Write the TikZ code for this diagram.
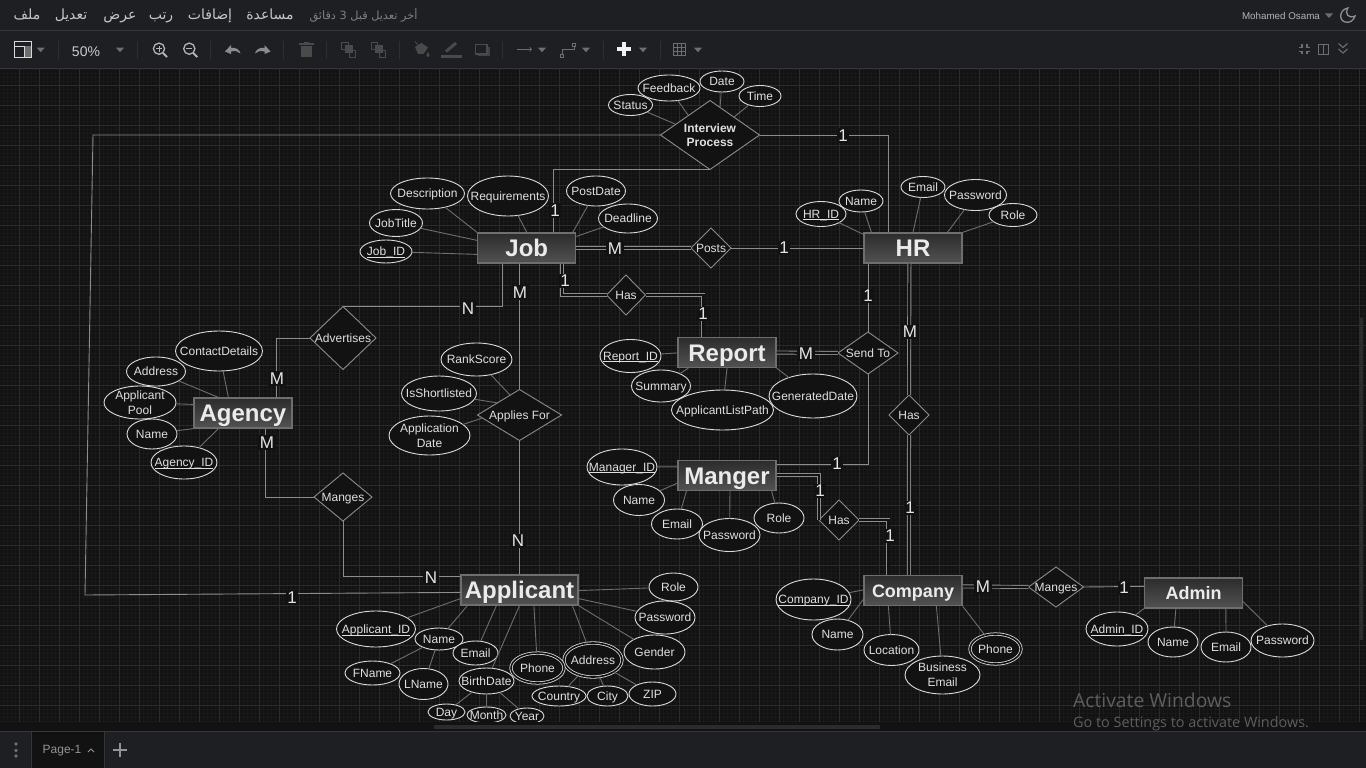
\documentclass[tikz,border=0pt]{standalone}
\usepackage{fontspec}
\setmainfont{Liberation Sans}
\newfontfamily\arabicfont[Script=Arabic]{DejaVu Sans}
\newfontfamily\winfont{Open Sans}
\TeXXeTstate=1
\usetikzlibrary{shapes.geometric, arrows}
\definecolor{canvasbg}{HTML}{121212}
\definecolor{chromebg}{HTML}{1D1F22}
\definecolor{chromeline}{HTML}{343638}
\definecolor{majorline}{HTML}{2B2B2B}
\definecolor{minorline}{HTML}{191919}
\definecolor{linkgrey}{HTML}{8C8C8C}
\definecolor{attrgrey}{HTML}{6E6E6E}
\definecolor{rimgrey}{HTML}{DADADA}
\definecolor{icondim}{HTML}{4A4A4A}
\definecolor{iconmid}{HTML}{6E6E6E}
\definecolor{iconlit}{HTML}{B4B4B4}
\definecolor{winmark}{HTML}{5E5E5E}
\definecolor{boxtop}{HTML}{2C2C2C}
\definecolor{boxbottom}{HTML}{525252}
\tikzstyle{entitynode}=[rectangle, draw=iconmid, line width=1.2pt, inner sep=0pt,
					top color=boxtop, bottom color=boxbottom,
					text=white!92!black, minimum width=98pt, minimum height=30pt]
\newcommand{\entityfont}{\fontsize{24}{28}\bfseries\selectfont}
\newcommand{\smallentityfont}{\fontsize{18}{22}\bfseries\selectfont}
\newcommand{\attrfont}{\fontsize{12}{15}\selectfont}
\newcommand{\caretat}[2]{\fill[iconmid] (#1-4,#2-2) -- (#1+4,#2-2) -- (#1,#2+2.5) -- cycle;}
\newcommand{\keyattr}[1]{\underline{\raisebox{0pt}[\height][0pt]{#1}}}

\begin{document}
\begin{tikzpicture}[x=1pt,y=-1pt,
 attrnode/.style 2 args={ellipse, draw=rimgrey, line width=.9pt, fill=canvasbg, text=white!88!black, font=\attrfont, align=center,
  inner sep=-70pt, outer sep=0pt, text depth=0pt, minimum width=#1pt, minimum height=#2pt},
 multinode/.style 2 args={attrnode={#1}{#2}, double=canvasbg, double distance=1.6pt, line width=.8pt},
 relnode/.style 2 args={diamond, draw=linkgrey, line width=.9pt, fill=canvasbg, text=white!88!black, font=\attrfont, align=center,
  inner sep=-70pt, outer sep=0pt, text depth=0pt, minimum width=#1pt, minimum height=#2pt},
 bigentity/.style={entitynode, font=\entityfont, text height=17pt, text depth=0pt},
 smallentity/.style={entitynode, font=\smallentityfont, text height=13pt, text depth=0pt},
 cardnode/.style={fill=canvasbg, text=white!90!black, font=\fontsize{17}{20}\selectfont, inner sep=1.5pt},
 linkline/.style={draw=linkgrey, line width=.9pt},
 twinline/.style={draw=linkgrey, line width=.9pt, double=canvasbg, double distance=2.2pt},
 attrline/.style={draw=attrgrey, line width=.9pt},
 menunode/.style={text=white!78!black, font=\arabicfont\fontsize{14}{16}\selectfont, inner sep=0pt, text height=10pt, text depth=3pt},
 uinode/.style={text=iconlit, inner sep=0pt},
 toolsep/.style={draw=chromeline!70!chromebg, line width=.8pt},
 ]
 \useasboundingbox (0,0) rectangle (1366,768);
 \fill[canvasbg] (0,0) rectangle (1366,768);

 %Canvas grid
 \begin{scope}
  \clip (0,68) rectangle (1366,722);
  \draw[minorline, line width=.6pt, step=4pt, xshift=-1pt, yshift=-5pt] (-10,735) grid (1380,60);
  \draw[majorline, line width=.8pt, step=20pt, xshift=-1pt, yshift=-5pt] (-10,735) grid (1380,60);
 \end{scope}

 %Entities
 \node[bigentity] (job_node) at (526.75,248) {Job};
 \node[bigentity] (hr_node) at (913,248) {HR};
 \node[bigentity] (report_node) at (727,352.5) {Report};
 \node[bigentity] (manger_node) at (727,475.5) {Manger};
 \node[bigentity] (agency_node) at (243,413) {Agency};
 \node[bigentity, minimum width=117pt] (applicant_node) at (519.5,590) {Applicant};
 \node[smallentity] (company_node) at (913,590.5) {Company};
 \node[smallentity] (admin_node) at (1193.5,593) {Admin};

 %Relations
 \node[relnode={99}{69}, font=\attrfont\bfseries\fontsize{12}{14}\selectfont] (interview_node) at (710,135) {Interview\\Process};
 \node[relnode={40}{40}] (posts_node) at (711,248) {Posts};
 \node[relnode={39}{40}] (has_report_node) at (626,295) {Has};
 \node[relnode={60}{42}] (send_node) at (868,353) {Send To};
 \node[relnode={40}{40}] (has_hr_node) at (909,415) {Has};
 \node[relnode={66}{63}] (advertises_node) at (343,338) {Advertises};
 \node[relnode={58}{48}] (manges_agency_node) at (343,497) {Manges};
 \node[relnode={84}{51}] (applies_node) at (519.5,415) {Applies For};
 \node[relnode={40}{40}] (has_manger_node) at (839,520) {Has};
 \node[relnode={55}{40}] (manges_admin_node) at (1056,587) {Manges};

 %Attributes of the interview
 \node[attrnode={44}{21}] (status_node) at (630.5,105) {Status};
 \node[attrnode={62}{26}] (feedback_node) at (669,88) {Feedback};
 \node[attrnode={44}{21}] (date_node) at (722,81.5) {Date};
 \node[attrnode={42}{21}] (time_node) at (760,96) {Time};

 %Attributes of the job
 \node[attrnode={74}{31}] (description_node) at (427.5,193.5) {Description};
 \node[attrnode={81}{40}] (requirements_node) at (508,196) {Requirements};
 \node[attrnode={59}{30}] (postdate_node) at (596,191) {PostDate};
 \node[attrnode={59}{29}] (deadline_node) at (628,218.5) {Deadline};
 \node[attrnode={53}{27}] (jobtitle_node) at (396,223) {JobTitle};
 \node[attrnode={52}{23}] (job_id_node) at (386,251.5) {\keyattr{Job\_ID}};

 %Attributes of hr
 \node[attrnode={50}{25}] (hr_id_node) at (821,214) {\keyattr{HR\_ID}};
 \node[attrnode={44}{22}] (hr_name_node) at (861,201) {Name};
 \node[attrnode={44}{21}] (hr_email_node) at (923,187) {Email};
 \node[attrnode={62}{31}] (hr_password_node) at (975.5,195) {Password};
 \node[attrnode={48}{23}] (hr_role_node) at (1013,215) {Role};

 %Attributes of the report
 \node[attrnode={61}{33}] (report_id_node) at (630.5,356) {\keyattr{Report\_ID}};
 \node[attrnode={59}{32}] (summary_node) at (661,386) {Summary};
 \node[attrnode={88}{44}] (generated_node) at (813,396) {GeneratedDate};
 \node[attrnode={102}{40}] (listpath_node) at (722.5,410) {ApplicantListPath};

 %Attributes of the manger
 \node[attrnode={70}{36}] (manager_id_node) at (622,467) {\keyattr{Manager\_ID}};
 \node[attrnode={51}{31}] (manger_name_node) at (639,500) {Name};
 \node[attrnode={51}{30}] (manger_email_node) at (677,524) {Email};
 \node[attrnode={61}{33}] (manger_password_node) at (729.5,535) {Password};
 \node[attrnode={50}{30}] (manger_role_node) at (779,518) {Role};

 %Attributes of the agency
 \node[attrnode={87}{40}] (contact_node) at (219,351) {ContactDetails};
 \node[attrnode={59}{29}] (agency_address_node) at (156,371.5) {Address};
 \node[attrnode={72}{33}] (pool_node) at (140,402.5) {Applicant\\Pool};
 \node[attrnode={50}{30}] (agency_name_node) at (152,434) {Name};
 \node[attrnode={66}{33}] (agency_id_node) at (184,462.5) {\keyattr{Agency\_ID}};

 %Attributes of applies for
 \node[attrnode={71}{33}] (rankscore_node) at (476.5,359.5) {RankScore};
 \node[attrnode={75}{35}] (shortlisted_node) at (439,393.5) {IsShortlisted};
 \node[attrnode={81}{39}] (appdate_node) at (429.5,435.5) {Application\\Date};

 %Attributes of the applicant
 \node[attrnode={49}{28}] (applicant_role_node) at (673.5,587) {Role};
 \node[attrnode={60}{33}] (applicant_password_node) at (665,617.5) {Password};
 \node[attrnode={61}{34}] (gender_node) at (654.5,652) {Gender};
 \node[attrnode={54}{20}] (country_node) at (559,696) {Country};
 \node[attrnode={41}{20}] (city_node) at (607.5,696) {City};
 \node[attrnode={47}{24}] (zip_node) at (652.5,694) {ZIP};
 \node[multinode={58}{34}] (applicant_address_node) at (593,660) {Address};
 \node[multinode={53}{30}] (applicant_phone_node) at (537.5,668) {Phone};
 \node[attrnode={37}{16}] (day_node) at (446.5,712) {Day};
 \node[attrnode={39}{16}] (month_node) at (486.5,715) {Month};
 \node[attrnode={34}{16}] (year_node) at (527,716) {Year};
 \node[attrnode={55}{26}] (birthdate_node) at (486.5,681) {BirthDate};
 \node[attrnode={79}{36}] (applicant_id_node) at (376,629) {\keyattr{Applicant\_ID}};
 \node[attrnode={55}{24}] (fname_node) at (372.5,673) {FName};
 \node[attrnode={49}{31}] (lname_node) at (423.5,684) {LName};
 \node[attrnode={48}{22}] (applicant_name_node) at (439,639) {Name};
 \node[attrnode={45}{24}] (applicant_email_node) at (475.5,653) {Email};

 %Attributes of the company
 \node[attrnode={75}{41}] (company_id_node) at (813.5,599.5) {\keyattr{Company\_ID}};
 \node[attrnode={51}{31}] (company_name_node) at (837.5,634.5) {Name};
 \node[attrnode={55}{31}] (location_node) at (891.5,650) {Location};
 \node[attrnode={75}{38}] (business_node) at (942.5,675) {Business\\Email};
 \node[multinode={51}{30}] (company_phone_node) at (995.5,649) {Phone};

 %Attributes of the admin
 \node[attrnode={62}{34}] (admin_id_node) at (1117,629) {\keyattr{Admin\_ID}};
 \node[attrnode={50}{30}] (admin_name_node) at (1173,642) {Name};
 \node[attrnode={50}{30}] (admin_email_node) at (1226,647) {Email};
 \node[attrnode={63}{33}] (admin_password_node) at (1282.5,640.5) {Password};

 %Attribute lines
 \draw[attrline] (status_node) -- ([xshift=-35pt,yshift=11pt]interview_node.center);
 \draw[attrline] (feedback_node) -- ([xshift=-22pt,yshift=20pt]interview_node.center);
 \draw[attrline] (date_node) -- ([xshift=10pt,yshift=27pt]interview_node.center);
 \draw[attrline] (time_node) -- ([xshift=24pt,yshift=18pt]interview_node.center);

 \draw[attrline] (description_node) -- (job_node.north west);
 \draw[attrline] (requirements_node) -- (job_node.north);
 \draw[attrline] (postdate_node) -- ([xshift=46pt]job_node.north);
 \draw[attrline] (deadline_node) -- ([yshift=-4pt]job_node.north east);
 \draw[attrline] (jobtitle_node) -- ([yshift=-8pt]job_node.north west);
 \draw[attrline] (job_id_node) -- ([yshift=-22pt]job_node.north west);

 \draw[attrline] (hr_id_node) -- ([yshift=-2pt]hr_node.north west);
 \draw[attrline] (hr_name_node) -- ([xshift=8pt]hr_node.north west);
 \draw[attrline] (hr_email_node) -- (hr_node.north);
 \draw[attrline] (hr_password_node) -- ([xshift=84pt]hr_node.north west);
 \draw[attrline] (hr_role_node) -- (hr_node.north east);

 \draw[attrline] (report_id_node) -- ([yshift=-16pt]report_node.north west);
 \draw[attrline] (summary_node) -- ([xshift=11pt]report_node.south west);
 \draw[attrline] (listpath_node) -- (report_node.south);
 \draw[attrline] (generated_node) -- (report_node.south east);

 \draw[attrline] (manager_id_node) -- ([yshift=-7pt]manger_node.north west);
 \draw[attrline] (manger_name_node) -- ([yshift=8pt]manger_node.south west);
 \draw[attrline] (manger_email_node) -- ([xshift=9pt]manger_node.south west);
 \draw[attrline] (manger_password_node) -- ([xshift=3pt]manger_node.south);
 \draw[attrline] (manger_role_node) -- ([xshift=-5pt]manger_node.south east);

 \draw[attrline] (contact_node) -- ([xshift=35pt]agency_node.north west);
 \draw[attrline] (agency_address_node) -- ([xshift=25pt]agency_node.north west);
 \draw[attrline] (pool_node) -- ([yshift=-7pt]agency_node.north west);
 \draw[attrline] (agency_name_node) -- (agency_node.south west);
 \draw[attrline] (agency_id_node) -- ([xshift=25pt]agency_node.south west);

 \draw[attrline] (rankscore_node) -- ([xshift=-9.5pt,yshift=20pt]applies_node.center);
 \draw[attrline] (shortlisted_node) -- ([xshift=-21.5pt,yshift=12pt]applies_node.center);
 \draw[attrline] (appdate_node) -- ([xshift=-37pt,yshift=-3pt]applies_node.center);

 \draw[attrline] (applicant_role_node) -- ([yshift=15pt]applicant_node.south east);
 \draw[attrline] (applicant_password_node) -- ([yshift=7pt]applicant_node.south east);
 \draw[attrline] (gender_node) -- (applicant_node.south east);
 \draw[attrline] (applicant_address_node) -- ([xshift=112pt]applicant_node.south west);
 \draw[attrline] (applicant_phone_node) -- ([xshift=73.5pt]applicant_node.south west);
 \draw[attrline] (birthdate_node) -- (applicant_node.south);
 \draw[attrline] (applicant_email_node) -- ([xshift=36pt]applicant_node.south west);
 \draw[attrline] (applicant_name_node) -- ([xshift=7pt]applicant_node.south west);
 \draw[attrline] (applicant_id_node) -- ([yshift=7pt]applicant_node.south west);
 \draw[attrline] (fname_node) -- (applicant_name_node);
 \draw[attrline] (lname_node) -- (applicant_name_node);
 \draw[attrline] (day_node) -- (birthdate_node);
 \draw[attrline] (month_node) -- (birthdate_node);
 \draw[attrline] (year_node) -- (birthdate_node);
 \draw[attrline] (country_node) -- (applicant_address_node);
 \draw[attrline] (city_node) -- (applicant_address_node);
 \draw[attrline] (zip_node) -- (applicant_address_node);

 \draw[attrline] (company_id_node) -- ([yshift=-15pt]company_node.north west);
 \draw[attrline] (company_name_node) -- ([yshift=7pt]company_node.south west);
 \draw[attrline] (location_node) -- ([xshift=25pt]company_node.south west);
 \draw[attrline] (business_node) -- ([xshift=73pt]company_node.south west);
 \draw[attrline] (company_phone_node) -- (company_node.south east);

 \draw[attrline] (admin_id_node) -- (admin_node.south west);
 \draw[attrline] (admin_name_node) -- ([xshift=32pt]admin_node.south west);
 \draw[attrline] (admin_email_node) -- ([xshift=82pt]admin_node.south west);
 \draw[attrline] (admin_password_node) -- ([yshift=7pt]admin_node.south east);

 %Lines
 \coordinate (corner_top) at (93,135);
 \coordinate (corner_bottom) at (85,595);
 \draw[linkline] (interview_node.west) -- (corner_top) -- (corner_bottom) -- ([yshift=-18pt]applicant_node.north west);
 \draw[linkline] (interview_node.east) -| ([xshift=25pt]hr_node.north west);
 \draw[linkline] (interview_node.south) -| ([xshift=76pt]job_node.north west);
 \draw[twinline] (job_node.east) -- (posts_node.west);
 \draw[linkline] (posts_node.east) -- (hr_node.west);
 \draw[twinline] ([xshift=85pt]job_node.south west) |- (has_report_node.west);
 \draw[twinline] (has_report_node.east) -| ([xshift=26pt]report_node.north west);
 \draw[linkline] ([xshift=25pt]job_node.south west) |- (advertises_node.north);
 \draw[linkline] (advertises_node.west) -| ([xshift=83pt]agency_node.north west);
 \draw[linkline] (job_node.south -| applies_node.north) -- (applies_node.north);
 \draw[linkline] (applies_node.south) -- (applicant_node.north);
 \draw[linkline] ([xshift=72pt]agency_node.south west) |- (manges_agency_node.west);
 \draw[linkline] (manges_agency_node.south) |- ([yshift=-2pt]applicant_node.north west);
 \draw[twinline] (report_node.east) -- (send_node.west);
 \draw[linkline] (send_node.north) -- (send_node.north |- hr_node.south);
 \draw[linkline] (send_node.south) |- ([yshift=-5pt]manger_node.north east);
 \draw[twinline] ([xshift=46pt]hr_node.south west) -- (has_hr_node.north);
 \draw[twinline] (has_hr_node.south) -- ([xshift=45.5pt]company_node.north west);
 \draw[twinline] ([yshift=-15pt]manger_node.north east) -| (has_manger_node.west);
 \draw[twinline] (has_manger_node.east) -| ([xshift=25pt]company_node.north west);
 \draw[twinline] ([yshift=-11.5pt]company_node.north east) -- (manges_admin_node.west);
 \draw[linkline] (manges_admin_node.east) -- ([yshift=-9pt]admin_node.north west);

 %Cardinalities
 \node[cardnode] (card_interview_hr) at (843,135.5) {1};
 \node[cardnode] (card_interview_job) at (555,210.5) {1};
 \node[cardnode] (card_interview_applicant) at (292,597.5) {1};
 \node[cardnode] (card_job_posts) at (615,248.5) {M};
 \node[cardnode] (card_hr_posts) at (784,248) {1};
 \node[cardnode] (card_job_has) at (565,281) {1};
 \node[cardnode] (card_report_has) at (703,314) {1};
 \node[cardnode] (card_job_advertises) at (468,308.5) {N};
 \node[cardnode] (card_job_applies) at (520,292.5) {M};
 \node[cardnode] (card_applicant_applies) at (518,541) {N};
 \node[cardnode] (card_agency_advertises) at (277,378.5) {M};
 \node[cardnode] (card_agency_manges) at (267,442.5) {M};
 \node[cardnode] (card_applicant_manges) at (431,578) {N};
 \node[cardnode] (card_report_send) at (806,353.5) {M};
 \node[cardnode] (card_hr_send) at (868,296) {1};
 \node[cardnode] (card_manger_send) at (837,464) {1};
 \node[cardnode] (card_hr_has) at (910,332) {M};
 \node[cardnode] (card_company_has) at (910,508) {1};
 \node[cardnode] (card_manger_has) at (820,491) {1};
 \node[cardnode] (card_company_manger) at (890,536) {1};
 \node[cardnode] (card_company_manges) at (983,587) {M};
 \node[cardnode] (card_admin_manges) at (1124,588) {1};

 %Strip under the canvas
 \fill[canvasbg] (0,722) rectangle (1366,731);

 %Watermark
 \node[anchor=west, inner sep=0pt, text=winmark, font=\winfont\fontsize{19.3}{22}\selectfont] (activate_node) at (1073,700) {Activate Windows};
 \node[anchor=west, inner sep=0pt, text=winmark, font=\winfont\fontsize{14.4}{16}\selectfont] (settings_node) at (1073,724) {Go to Settings to activate Windows.};

 %Scrollbars
 \fill[majorline] (434,725) rectangle (880,729);
 \fill[majorline] (1359,318) rectangle (1363,640);

 %Window bars
 \fill[chromebg] (0,0) rectangle (1366,68);
 \draw[chromeline, line width=.8pt] (0,30.6) -- (1366,30.6);
 \draw[chromeline, line width=.8pt] (0,68) -- (1366,68);
 \fill[chromebg] (0,731) rectangle (1366,768);
 \fill[canvasbg] (32,731) rectangle (104,768);
 \draw[chromeline, line width=.8pt] (0,731) -- (1366,731);
 \draw[chromeline, line width=.8pt] (31.5,731) -- (31.5,768);
 \draw[chromeline, line width=.8pt] (104.5,731) -- (104.5,768);

 %Menu
 \node[menunode] (menu_file) at (27,16) {\beginR ملف\endR};
 \node[menunode] (menu_edit) at (71,16) {\beginR تعديل\endR};
 \node[menunode] (menu_view) at (120,16) {\beginR عرض\endR};
 \node[menunode] (menu_arrange) at (161,16) {\beginR رتب\endR};
 \node[menunode] (menu_extras) at (210,16) {\beginR إضافات\endR};
 \node[menunode] (menu_help) at (270,16) {\beginR مساعدة\endR};
 \node[menunode, text=white!50!black, font=\arabicfont\fontsize{11.3}{13}\selectfont] (menu_saved) at (363.5,16) {\beginR أخر تعديل قبل \beginL 3\endL{} دقائق\endR};
 \node[uinode, font=\fontsize{9.8}{12}\selectfont] (user_node) at (1281,15.5) {Mohamed Osama};
 \caretat{1329}{15.5}
 \draw[iconmid!130!black, line width=1.3pt] (1348,8) .. controls (1340,9) and (1338,20) .. (1345,22) .. controls (1350,23.5) and (1354,20) .. (1355,16) .. controls (1349,19) and (1344,14) .. (1348,8) -- cycle;

 %Toolbar
 \draw[white!85!black, line width=.9pt] (14.5,41.5) rectangle (31,57.5);
 \draw[white!85!black, line width=.9pt] (14.5,46) -- (31,46);
 \fill[iconmid] (24.5,46.5) rectangle (30.5,57);
 \draw[white!85!black, line width=.7pt] (24.5,46) -- (24.5,57.5);
 \caretat{40.7}{49.7}
 \node[uinode, text=white!80!black, font=\fontsize{14}{16}\selectfont] (zoom_node) at (86,52) {50\%};
 \caretat{120}{49.7}
 \foreach \s in {58,137.5,210,283,326,399.5,502,603.5,660.7}
  \draw[toolsep] (\s,41) -- (\s,59);

 \draw[iconlit, line width=1.3pt] (159,48.7) circle (5.6);
 \draw[iconlit, line width=2pt] (163,53) -- (167,57);
 \draw[iconlit, line width=.8pt] (156,48.7) -- (162,48.7) (159,45.7) -- (159,51.7);
 \draw[iconlit, line width=1.3pt] (189.3,48.7) circle (5.6);
 \draw[iconlit, line width=2pt] (193.3,53) -- (197.3,57);
 \draw[iconlit, line width=.8pt] (186.3,48.7) -- (192.3,48.7);

 \fill[white!55!black] (225,51.5) -- (231,45) -- (231,48) .. controls (236,47) and (240,50) .. (240.5,53.5) .. controls (238,51) and (235,50.5) .. (231,51.5) -- (231,54) -- cycle;
 \fill[white!55!black] (270.5,51.5) -- (264.5,45) -- (264.5,48) .. controls (259.5,47) and (255.5,50) .. (255,53.5) .. controls (257.5,51) and (260.5,50.5) .. (264.5,51.5) -- (264.5,54) -- cycle;

 \fill[icondim] (300.5,46) rectangle (312,57.5);
 \fill[icondim] (299,43.5) rectangle (313.5,45);
 \fill[icondim] (303.5,42) rectangle (309,43.5);

 \draw[icondim, line width=.8pt] (341.5,42) rectangle (348,49);
 \draw[icondim, line width=.8pt] (349.5,50) rectangle (355.5,57);
 \fill[icondim] (344.5,45) rectangle (352.5,53.5);
 \fill[icondim] (375,45) rectangle (382.5,53);
 \draw[icondim, line width=.8pt] (371,42) rectangle (377.5,49);
 \draw[icondim, line width=.8pt] (379.5,50.5) rectangle (385.5,57);

 \fill[icondim] (415,47) -- (421.5,43) -- (428,47.5) -- (423.5,54) -- (418,54) -- cycle;
 \draw[icondim, line width=.8pt] (415,41.5) -- (419,46);
 \fill[icondim] (428,52) .. controls (426,55) and (426,57) .. (428,57) .. controls (430,57) and (430,55) .. (428,52) -- cycle;

 \fill[icondim] (441,55.5) rectangle (462,58.5);
 \draw[icondim, line width=3pt] (446,51.5) -- (456,43);

 \fill[icondim!80!chromebg] (478,47) rectangle (490,56.5);
 \fill[chromebg] (476,45) rectangle (487,54);
 \draw[icondim, line width=1.2pt] (475.5,44.5) rectangle (487,54);

 \draw[iconmid, line width=.8pt, ->] (517,49.3) -- (532,49.3);
 \caretat{542}{49.7}
 \draw[iconmid, line width=.8pt] (562,54.5) -- (562,49.5) -- (574,49.5) -- (574,46);
 \draw[iconmid, line width=.8pt] (560.5,54.5) rectangle (563.5,57);
 \draw[iconmid, line width=.8pt] (572.5,43.5) rectangle (575.5,46);
 \caretat{586}{49.7}
 \fill[white!95!black] (617,47.5) rectangle (631,51.5);
 \fill[white!95!black] (622,42.5) rectangle (626,56.5);
 \caretat{643}{49.7}
 \draw[iconmid, line width=.8pt] (673,43) rectangle (685.7,55.7);
 \draw[iconmid, line width=.8pt] (677.2,43) -- (677.2,55.7) (681.5,43) -- (681.5,55.7) (673,47.2) -- (685.7,47.2) (673,51.5) -- (685.7,51.5);
 \caretat{698}{49.7}

 \draw[iconmid, line width=1.8pt] (1299,47.5) -- (1302,47.5) -- (1302,44.5) (1307,44.5) -- (1307,47.5) -- (1310,47.5) (1299,51.5) -- (1302,51.5) -- (1302,54.5) (1307,54.5) -- (1307,51.5) -- (1310,51.5);
 \draw[iconmid, line width=.9pt] (1318.5,44.5) rectangle (1328,54);
 \draw[iconmid, line width=.9pt] (1323.5,44.5) -- (1323.5,54);
 \draw[iconmid, line width=1.1pt] (1338.5,43.5) -- (1343,47.5) -- (1347.5,43.5) (1338.5,49) -- (1343,53) -- (1347.5,49);

 %Page tabs
 \fill[iconmid] (16,744) circle (1.8) (16,750.5) circle (1.8) (16,756) circle (1.8);
 \node[uinode, text=white!58!black, font=\fontsize{12}{15}\selectfont] (page_node) at (62,751) {Page-1};
 \draw[white!58!black, line width=1pt] (88,752) -- (91,749) -- (94,752);
 \draw[white!58!black, line width=1.6pt] (113,750) -- (127,750) (120,743) -- (120,757);
\end{tikzpicture}
\end{document}
